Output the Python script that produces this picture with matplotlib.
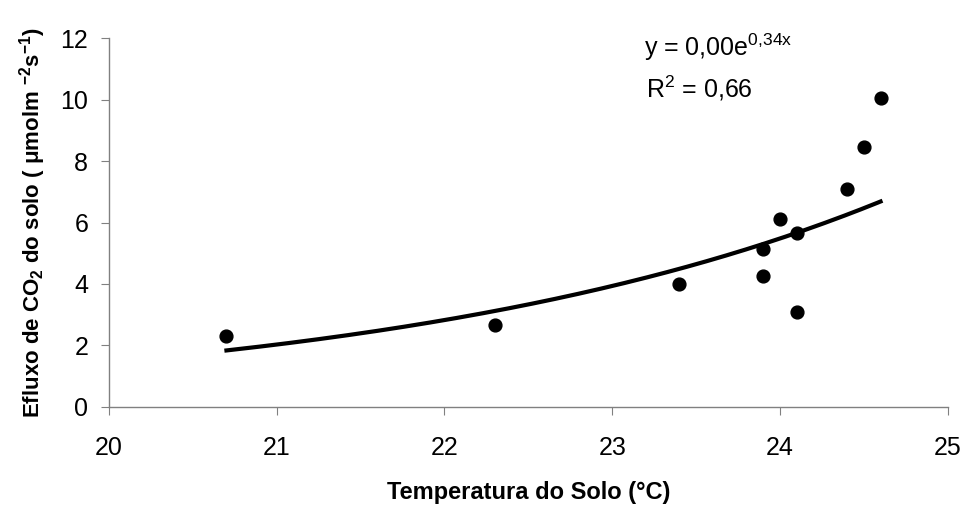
import numpy as np
import matplotlib
matplotlib.use("Agg")
import matplotlib.pyplot as plt

plt.rcParams["font.family"] = ["Liberation Sans", "DejaVu Sans"]
plt.rcParams["mathtext.fontset"] = "custom"
plt.rcParams["mathtext.rm"] = "Liberation Sans"
plt.rcParams["mathtext.it"] = "Liberation Sans:italic"
plt.rcParams["mathtext.bf"] = "Liberation Sans:bold"

# soil temperature (°C) and CO2 efflux
temperatura = [20.7, 22.3, 23.4, 23.9, 23.9, 24.0, 24.1, 24.1, 24.4, 24.5, 24.6]
efluxo = [2.3, 2.65, 4.0, 5.15, 4.25, 6.1, 5.65, 3.1, 7.1, 8.45, 10.05]

x_ticks = [20, 21, 22, 23, 24, 25]
y_ticks = [0, 2, 4, 6, 8, 10, 12]

# exponential trend line fitted from the points
b, ln_a = np.polyfit(temperatura, np.log(efluxo), 1)
x_fit = np.linspace(min(temperatura), max(temperatura), 200)
y_fit = np.exp(ln_a) * np.exp(b * x_fit)

fig = plt.figure(figsize=(9.65, 5.08), dpi=100)
ax = fig.add_axes([0.113, 0.199, 0.869, 0.726])

ax.plot(x_fit, y_fit, color="black", lw=3, zorder=2)
ax.scatter(temperatura, efluxo, s=85, color="black", zorder=3)

ax.set_xlim(20, 25)
ax.set_ylim(0, 12)
ax.set_xticks(x_ticks)
ax.set_yticks(y_ticks)
ax.tick_params(labelsize=18, length=6, color="#808080", direction="out")
ax.tick_params(axis="x", pad=15)
ax.tick_params(axis="y", pad=9)

for side in ["top", "right"]:
    ax.spines[side].set_visible(False)
for side in ["left", "bottom"]:
    ax.spines[side].set_color("#808080")
    ax.spines[side].set_linewidth(1)

ax.set_xlabel("Temperatura do Solo (°C)", fontsize=17, fontweight="bold", labelpad=15)
ax.set_ylabel("Efluxo de CO$_\\mathbf{2}$ do solo ( \u03bcmolm $^{\\mathbf{-2}}$s$^{\\mathbf{-1}}$)",
              fontsize=16, fontweight="bold", labelpad=9)

ax.text(23.63, 11.7, r"y = 0,00e$^{\mathregular{0{,}34x}}$", fontsize=18, ha="center", va="center")
ax.text(23.52, 10.37, r"R$^{\mathregular{2}}$ = 0,66", fontsize=18, ha="center", va="center")

fig.savefig("out.png", dpi=100)
